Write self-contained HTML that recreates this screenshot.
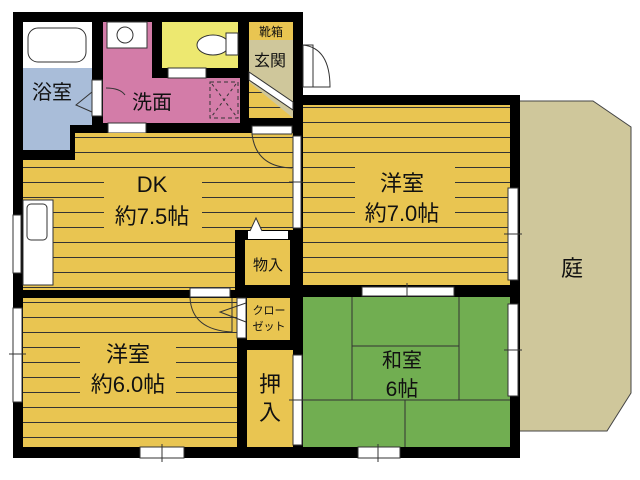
<!DOCTYPE html>
<html><head><meta charset="utf-8"><style>
html,body{margin:0;padding:0;background:#fff;}
svg{display:block;}
text{font-family:"Liberation Sans","Noto Sans CJK JP",sans-serif;fill:#111;}
</style></head><body>
<svg width="640" height="480" viewBox="0 0 640 480" xmlns="http://www.w3.org/2000/svg">
<defs>
<pattern id="st" x="0" y="3" width="10" height="15" patternUnits="userSpaceOnUse">
<rect width="10" height="15" fill="#e9c551"/><rect y="14" width="10" height="1" fill="#333"/>
</pattern>
</defs>
<polygon points="518,101 593,101 631,127 631,393 607,431 518,431" fill="#cfc79b" stroke="#444" stroke-width="1"/>
<text x="572" y="276" font-size="22" text-anchor="middle">庭</text>
<rect x="13" y="12" width="290" height="446" fill="#000"/>
<rect x="293" y="95" width="227" height="363" fill="#000"/>
<rect x="293" y="12" width="10" height="93" fill="#000"/>
<rect x="23" y="22" width="69" height="46" fill="#fff"/>
<rect x="28" y="28" width="58" height="34" rx="10" fill="#fff" stroke="#333"/>
<path d="M23 68 H92 V125 H70 V150 H23 Z" fill="#a9bdd9"/>
<text x="32" y="99" font-size="20">浴室</text>
<rect x="92" y="80" width="10" height="36" fill="#fff" stroke="#333"/>
<path d="M92 92 L76 105 L92 112" fill="none" stroke="#333"/>
<rect x="103" y="22" width="49" height="101" fill="#d37ca8"/>
<rect x="152" y="78" width="88" height="45" fill="#d37ca8"/>
<rect x="107" y="22" width="40" height="26" fill="#fff" stroke="#333"/>
<circle cx="125" cy="35" r="8" fill="#fff" stroke="#333"/>
<text x="132" y="109" font-size="20">洗面</text>
<rect x="108" y="123" width="38" height="10" fill="#fff" stroke="#333"/>
<path d="M106 88 Q120 88 125 95" fill="none" stroke="#333"/>
<rect x="210" y="82" width="28" height="36" fill="none" stroke="#333" stroke-dasharray="4,3"/>
<path d="M212 84 L236 116 M236 84 L212 116" stroke="#333" stroke-dasharray="3,3"/>
<rect x="162" y="22" width="76" height="46" fill="#ede870"/>
<ellipse cx="213" cy="45" rx="16" ry="10" fill="#fff" stroke="#333"/>
<rect x="226" y="33" width="12" height="22" fill="#fff" stroke="#333"/>
<rect x="168" y="68" width="38" height="10" fill="#fff" stroke="#333"/>
<rect x="249" y="22" width="44" height="18" fill="#e9c551"/>
<text x="271" y="36" font-size="12" text-anchor="middle">靴箱</text>
<rect x="249" y="40" width="44" height="78" fill="#cfc79b"/>
<polygon points="249,82 293,118 249,118" fill="url(#st)"/>
<polygon points="249,72 293,102 293,110 249,80" fill="#fff" stroke="#333"/>
<text x="270" y="66" font-size="16" text-anchor="middle">玄関</text>
<rect x="303" y="45" width="10" height="42" fill="#fff" stroke="#333"/>
<path d="M303 45 Q330 48 330 87 H303" fill="none" stroke="#333"/>
<path d="M75 133 H293 V290 H23 V160 H75 Z" fill="url(#st)"/>
<rect x="23" y="200" width="30" height="85" fill="#fff" stroke="#333"/>
<rect x="27" y="204" width="20" height="36" rx="4" fill="#fff" stroke="#333"/>
<rect x="13" y="215" width="8" height="58" fill="#fff" stroke="#333"/>
<rect x="104" y="168" width="98" height="60" fill="#e9c551"/>
<text x="152" y="192" font-size="22" text-anchor="middle">DK</text>
<text x="152" y="224" font-size="22" text-anchor="middle">約7.5帖</text>
<rect x="252" y="126" width="40" height="8" fill="#fff" stroke="#333"/>
<path d="M252 134 Q256 167 292 168" fill="none" stroke="#333"/>
<rect x="293" y="136" width="8" height="92" fill="#fff" stroke="#333"/>
<path d="M289 182 H305" stroke="#333"/>
<rect x="235" y="230" width="58" height="60" fill="#000"/>
<rect x="245" y="240" width="45" height="45" fill="#e9c551"/>
<text x="268" y="270" font-size="15" text-anchor="middle">物入</text>
<rect x="248" y="231" width="40" height="8" fill="#fff"/>
<path d="M250 231 L256 218 L262 231" fill="#fff" stroke="#333"/>
<rect x="23" y="298" width="214" height="149" fill="url(#st)"/>
<rect x="80" y="338" width="96" height="62" fill="#e9c551"/>
<text x="128" y="362" font-size="22" text-anchor="middle">洋室</text>
<text x="128" y="392" font-size="22" text-anchor="middle">約6.0帖</text>
<rect x="190" y="288" width="40" height="9" fill="#fff" stroke="#333"/>
<path d="M190 298 Q192 330 232 332 V298" fill="none" stroke="#333"/>
<rect x="13" y="308" width="9" height="94" fill="#fff" stroke="#333"/>
<path d="M9 354 H26" stroke="#333"/>
<rect x="140" y="447" width="44" height="11" fill="#fff" stroke="#333"/>
<path d="M162 444 V462" stroke="#333"/>
<rect x="247" y="298" width="43" height="42" fill="#e9c551"/>
<rect x="237" y="298" width="9" height="40" fill="#fff" stroke="#333"/>
<path d="M246 303 L220 312 L246 322" fill="none" stroke="#333"/>
<text x="269" y="314" font-size="11" text-anchor="middle">クロー</text>
<text x="269" y="330" font-size="11" text-anchor="middle">ゼット</text>
<rect x="247" y="350" width="46" height="97" fill="#e9c551"/>
<text x="270" y="392" font-size="22" text-anchor="middle">押</text>
<text x="270" y="420" font-size="22" text-anchor="middle">入</text>
<rect x="293" y="355" width="9" height="90" fill="#fff" stroke="#333"/>
<path d="M289 400 H305" stroke="#333"/>
<rect x="303" y="105" width="207" height="180" fill="url(#st)"/>
<rect x="355" y="160" width="100" height="66" fill="#e9c551"/>
<text x="402" y="191" font-size="22" text-anchor="middle">洋室</text>
<text x="402" y="221" font-size="22" text-anchor="middle">約7.0帖</text>
<rect x="508" y="188" width="10" height="92" fill="#fff" stroke="#333"/>
<path d="M504 234 H522" stroke="#333"/>
<rect x="362" y="287" width="92" height="9" fill="#fff" stroke="#333"/>
<path d="M407 283 V300" stroke="#333"/>
<rect x="303" y="297" width="207" height="150" fill="#71ae51"/>
<g stroke="#333" fill="none">
<path d="M352 297 V400 M459 297 V400 M352 346 H459 M303 400 H510 M405 400 V447"/>
</g>
<text x="402" y="367" font-size="20" text-anchor="middle">和室</text>
<text x="402" y="396" font-size="21" text-anchor="middle">6帖</text>
<rect x="508" y="304" width="10" height="92" fill="#fff" stroke="#333"/>
<path d="M504 350 H522" stroke="#333"/>
<rect x="358" y="447" width="42" height="11" fill="#fff" stroke="#333"/>
<path d="M378 444 V462" stroke="#333"/>
</svg>
</body></html>
